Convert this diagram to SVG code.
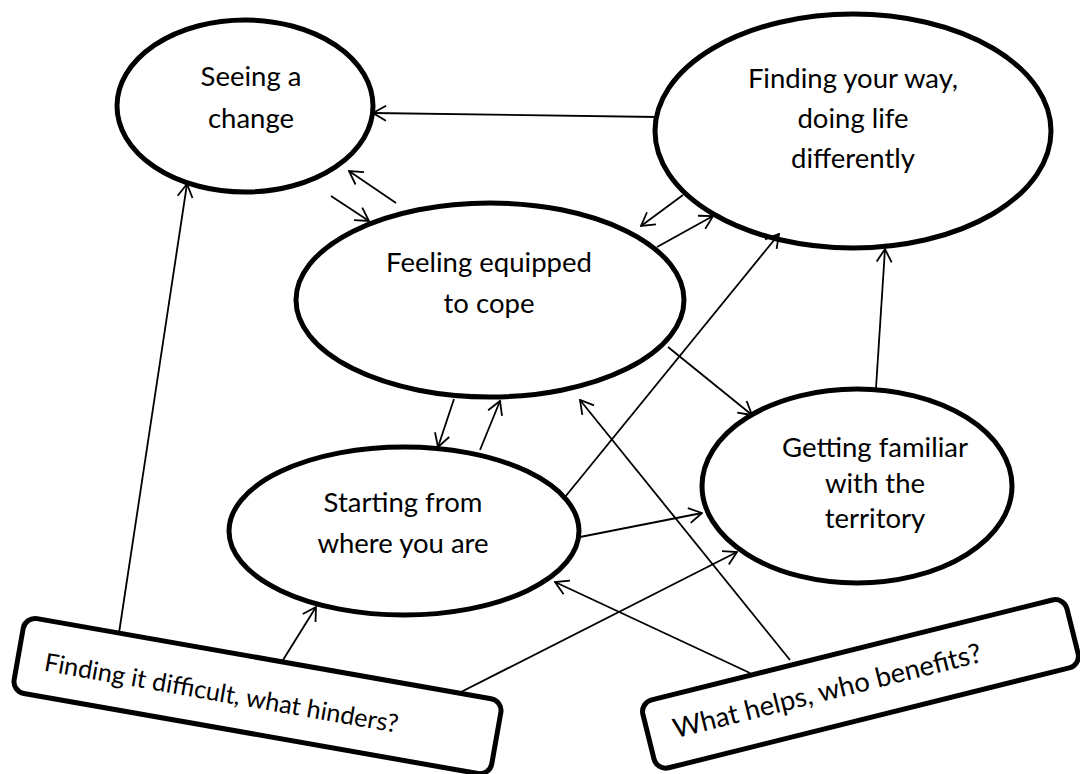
<svg xmlns="http://www.w3.org/2000/svg" width="1080" height="774" viewBox="0 0 1080 774">
  <style>
    .node { fill: #ffffff; stroke: #000000; stroke-width: 5; }
    .label { font-family: Lato, "Liberation Sans", sans-serif; font-size: 27.5px; fill: #000000; text-anchor: middle; }
    .box-label { font-family: Lato, "Liberation Sans", sans-serif; font-size: 25.2px; fill: #000000; }
    .link { stroke: #000000; stroke-width: 1.8; fill: none; marker-end: url(#arrow); }
  </style>
  <defs>
    <marker id="arrow" viewBox="0 0 16 18" refX="15" refY="9" markerWidth="16" markerHeight="18" markerUnits="userSpaceOnUse" orient="auto">
      <path d="M2,1.5 L15,9 L2,16.5" fill="none" stroke="#000000" stroke-width="1.8" stroke-linejoin="miter"/>
    </marker>
  </defs>
  <rect width="1080" height="774" fill="#ffffff"/>

  <g id="node-seeing-change">
    <ellipse class="node" cx="245" cy="106" rx="128" ry="86"/>
    <text class="label" x="251" y="86">Seeing a</text>
    <text class="label" x="251" y="128">change</text>
  </g>

  <g id="node-finding-your-way">
    <ellipse class="node" cx="853" cy="131" rx="198" ry="117"/>
    <text class="label" x="853" y="88">Finding your way,</text>
    <text class="label" x="853" y="128">doing life</text>
    <text class="label" x="853" y="168">differently</text>
  </g>

  <g id="node-feeling-equipped">
    <ellipse class="node" cx="490" cy="300" rx="194" ry="97"/>
    <text class="label" x="489" y="272">Feeling equipped</text>
    <text class="label" x="489" y="313">to cope</text>
  </g>

  <g id="node-starting-from">
    <ellipse class="node" cx="404" cy="531" rx="175" ry="84"/>
    <text class="label" x="403" y="512">Starting from</text>
    <text class="label" x="403" y="553">where you are</text>
  </g>

  <g id="node-getting-familiar">
    <ellipse class="node" cx="857" cy="486" rx="155" ry="97"/>
    <text class="label" x="875" y="457">Getting familiar</text>
    <text class="label" x="875" y="493">with the</text>
    <text class="label" x="875" y="528">territory</text>
  </g>

  <g id="node-what-hinders" transform="translate(257,696) rotate(10)">
    <rect class="node" x="-242" y="-38" width="485" height="76" rx="12"/>
    <text class="box-label" x="-215" y="12">Finding it difficult, what hinders?</text>
  </g>

  <g id="node-what-helps" transform="translate(860,684) rotate(-14)">
    <rect class="node" x="-218" y="-35" width="437" height="70" rx="12"/>
    <text class="box-label" x="-192" y="8" style="font-size:27.3px">What helps, who benefits?</text>
  </g>

  <g id="connectors">
    <line class="link" x1="657" y1="117" x2="373" y2="113"/>
    <line class="link" x1="396" y1="203" x2="349" y2="171"/>
    <line class="link" x1="331" y1="196" x2="369" y2="221"/>
    <line class="link" x1="683" y1="195" x2="641" y2="226"/>
    <line class="link" x1="657" y1="247" x2="713" y2="216"/>
    <line class="link" x1="454" y1="399" x2="438" y2="447"/>
    <line class="link" x1="480" y1="450" x2="500" y2="401"/>
    <line class="link" x1="790" y1="660" x2="580" y2="400"/>
    <line class="link" x1="565" y1="497" x2="779" y2="234"/>
    <line class="link" x1="668" y1="347" x2="752" y2="415"/>
    <line class="link" x1="876" y1="388" x2="885" y2="249"/>
    <line class="link" x1="580" y1="537" x2="702" y2="513"/>
    <line class="link" x1="459" y1="693" x2="737" y2="552"/>
    <line class="link" x1="750" y1="673" x2="555" y2="582"/>
    <line class="link" x1="119" y1="633" x2="187" y2="184"/>
    <line class="link" x1="283" y1="660" x2="316" y2="607"/>
  </g>
</svg>
